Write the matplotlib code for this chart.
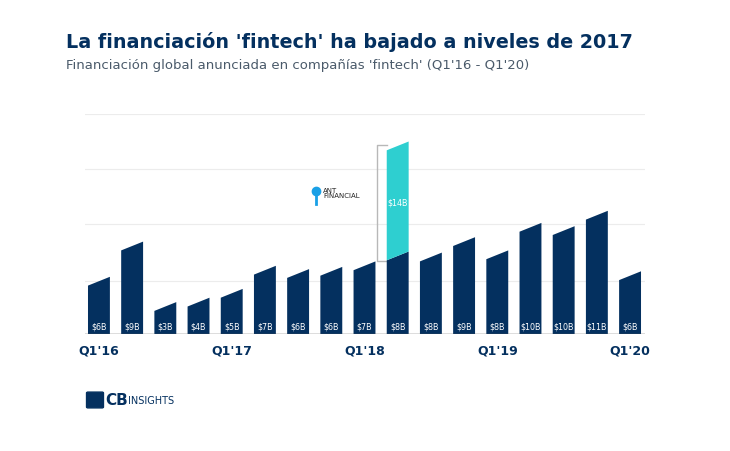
import matplotlib.pyplot as plt
from matplotlib.patches import Polygon, FancyBboxPatch

quarters = ["Q1'16", "Q2'16", "Q3'16", "Q4'16", "Q1'17", "Q2'17", "Q3'17", "Q4'17",
            "Q1'18", "Q2'18", "Q3'18", "Q4'18", "Q1'19", "Q2'19", "Q3'19", "Q4'19", "Q1'20"]
labels = ["$6B", "$9B", "$3B", "$4B", "$5B", "$7B", "$6B", "$6B", "$7B", "$8B",
          "$8B", "$9B", "$8B", "$10B", "$10B", "$11B", "$6B"]
heights = [5.2, 8.4, 2.9, 3.3, 4.1, 6.2, 5.9, 6.1, 6.6, 7.5, 7.4, 8.8, 7.6, 10.1, 9.8, 11.2, 5.7]
ant_index = 9
ant_height = 10.0
ant_label = "$14B"

NAVY = "#04305f"
TEAL = "#2ecfd0"
slant = 0.8
w = 0.66

fig = plt.figure(figsize=(7.3, 4.52), dpi=100)
ax = fig.add_axes([85 / 730, 1 - 335 / 452, 560 / 730, 220 / 452])
ax.set_xlim(-0.42, 16.45)
ax.set_ylim(0, 20)

for y in [4.8, 10, 15, 20]:
    ax.axhline(y, color="#ececec", lw=0.8, zorder=0)

def slanted(i, bottom, top, color):
    pts = [(i - w / 2, bottom if bottom == 0 else bottom - slant), (i + w / 2, bottom),
           (i + w / 2, top), (i - w / 2, top - slant)]
    ax.add_patch(Polygon(pts, closed=True, color=color, lw=0, zorder=2))

for i, h in enumerate(heights):
    slanted(i, 0, h, NAVY)
    ax.text(i, 0.75, labels[i], color="white", ha="center", va="center", fontsize=5.8, zorder=3)

h0 = heights[ant_index]
slanted(ant_index, h0, h0 + ant_height, TEAL)
ax.text(ant_index, h0 + ant_height * 0.45, ant_label, color="white", ha="center",
        va="center", fontsize=5.8, zorder=3)

# bracket next to the Ant bar
bx = ant_index - 0.62
ax.plot([bx + 0.3, bx, bx, bx + 0.3], [h0 + ant_height - 0.3, h0 + ant_height - 0.3, h0 - 0.9, h0 - 0.9],
        color="#b8b8b8", lw=1, zorder=1)
ax.text(ant_index - 2.25, 12.85, "ANT\nFINANCIAL", fontsize=5, color="#222222", ha="left",
        va="center", linespacing=0.9)
ax.plot([ant_index - 2.45], [13.0], "o", color="#1aa0e6", ms=6)
ax.plot([ant_index - 2.45, ant_index - 2.45], [11.8, 12.6], color="#1aa0e6", lw=2)

ax.axhline(0, color="#555555", lw=1, zorder=4)
ticks = [0, 4, 8, 12, 16]
ax.set_xticks(ticks)
ax.set_xticklabels([quarters[t] for t in ticks], fontsize=9, color=NAVY, fontweight="bold")
ax.tick_params(length=0, pad=7)
ax.set_yticks([])
for s in ax.spines.values():
    s.set_visible(False)

fig.text(66 / 730, 1 - 42 / 452, "La financiación 'fintech' ha bajado a niveles de 2017",
         fontsize=13.8, fontweight="bold", color=NAVY, va="center")
fig.text(66 / 730, 1 - 66 / 452, "Financiación global anunciada en compañías 'fintech' (Q1'16 - Q1'20)",
         fontsize=9.5, color="#4a5a6a", va="center")

# CB Insights logo
fig.patches.append(FancyBboxPatch((88 / 730, 1 - 408 / 452), 14 / 730, 14 / 452,
                                  boxstyle="round,pad=0.002", color=NAVY, transform=fig.transFigure))
fig.text(105 / 730, 1 - 401 / 452, "CB", fontsize=11, fontweight="bold", color=NAVY, va="center")
fig.text(128 / 730, 1 - 401 / 452, "INSIGHTS", fontsize=7, color=NAVY, va="center")

fig.savefig("out.png", dpi=100, facecolor="white")
